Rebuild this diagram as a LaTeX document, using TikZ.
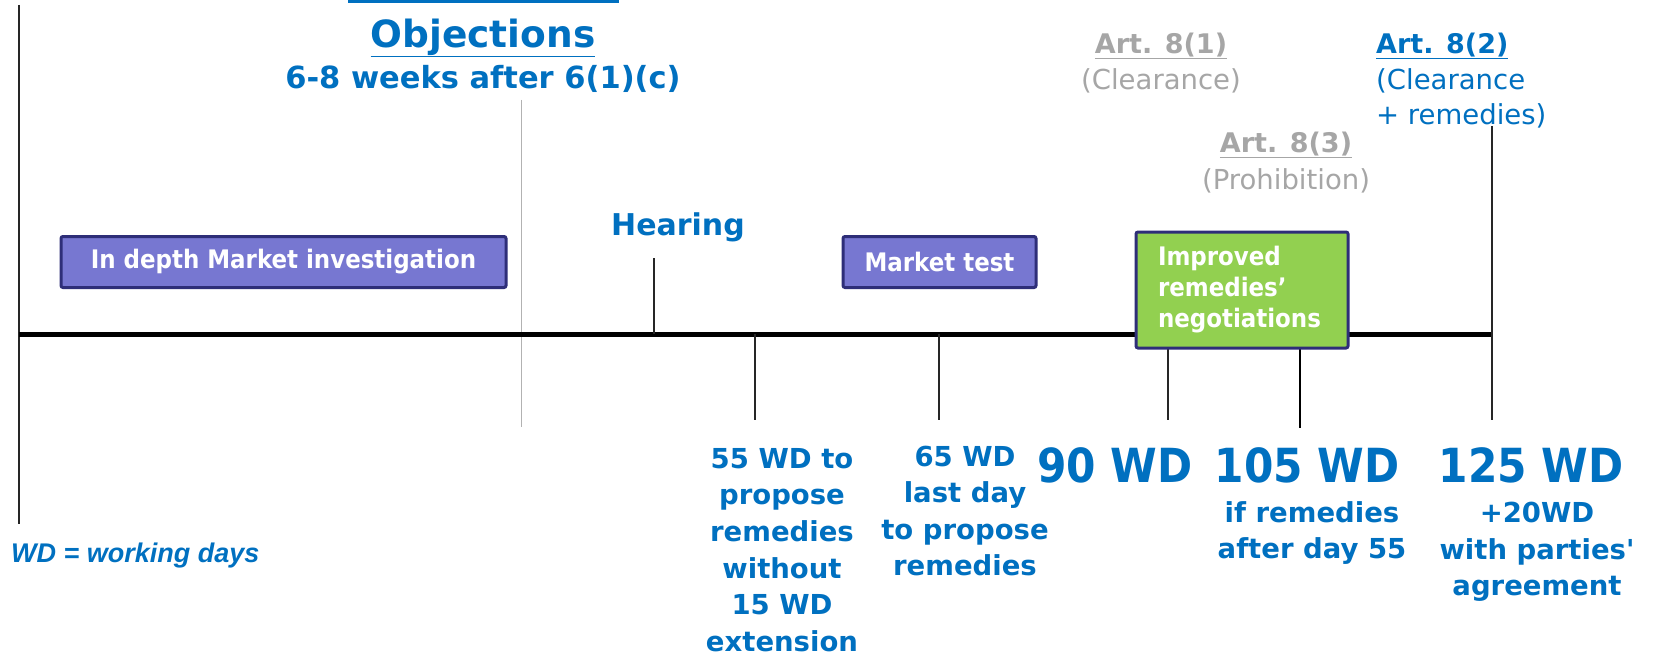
\documentclass[tikz,border=0pt]{standalone}
\usepackage{fontspec}
\setmainfont{DejaVu Sans}
\newfontfamily\dvs{DejaVu Sans}
\newfontfamily\dvc{DejaVu Sans Condensed}
\newfontfamily\arialf{Liberation Sans}
\definecolor{ecblue}{HTML}{0070C0}
\definecolor{artgray}{HTML}{A6A6A6}
\definecolor{boxpurple}{HTML}{7777D1}
\definecolor{boxnavy}{HTML}{2E2E78}
\definecolor{boxgreen}{HTML}{92D050}
\begin{document}
\begin{tikzpicture}[x=1pt,y=-1pt,
  lbl/.style={text=ecblue, font=\dvs\bfseries\fontsize{27.5}{36.6}\selectfont, align=center, inner sep=0pt},
  bigwd/.style={text=ecblue, font=\dvc\bfseries\fontsize{47}{52}\selectfont, inner sep=0pt},
  arttitle/.style={font=\dvs\bfseries\fontsize{27}{35}\selectfont, inner sep=0pt},
  artsub/.style={font=\dvs\fontsize{27.5}{35}\selectfont, inner sep=0pt},
  phase/.style={draw=boxnavy, line width=3pt, fill=boxpurple, text=white, font=\dvc\bfseries\fontsize{25.5}{31}\selectfont, rounded corners=2pt, minimum height=51pt, inner sep=0pt},
  tickline/.style={draw=black!85, line width=1.3pt},
  timeline/.style={draw=black, line width=5pt}
]
\useasboundingbox[fill=white] (0,0) rectangle (1653,658);

% frame lines
\coordinate (topl) at (348,2);
\coordinate (topr) at (619,2);
\draw[ecblue, line width=3pt] (topl) -- (topr);
\coordinate (lefttop) at (19,5);
\coordinate (leftbot) at (19,524);
\draw[tickline] (lefttop) -- (leftbot);
\coordinate (graytop) at (521,100);
\coordinate (graybot) at (521,427);
\draw[black!30, line width=1pt] (graytop) -- (graybot);

% timeline
\coordinate (tl0) at (19,334);
\coordinate (tl1) at (1492,334);
\draw[timeline] (tl0) -- (tl1);

% ticks
\coordinate (hearA) at (654,258); \coordinate (hearB) at (654,334);
\draw[tickline] (hearA) -- (hearB);
\coordinate (t55a) at (755,334); \coordinate (t55b) at (755,420);
\draw[tickline] (t55a) -- (t55b);
\coordinate (t65a) at (939,334); \coordinate (t65b) at (939,420);
\draw[tickline] (t65a) -- (t65b);
\coordinate (t90a) at (1168,340); \coordinate (t90b) at (1168,420);
\draw[tickline] (t90a) -- (t90b);
\coordinate (t105a) at (1300,340); \coordinate (t105b) at (1300,428);
\draw[draw=black, line width=2.5pt] (t105a) -- (t105b);
\coordinate (t125a) at (1492,126); \coordinate (t125b) at (1492,420);
\draw[tickline] (t125a) -- (t125b);

% phase boxes
\node[phase, minimum width=445pt] (idmi) at (283.5,262) {In depth Market investigation};
\node[phase, minimum width=193pt] (mtest) at (939.5,262) {Market test};
\node[phase, fill=boxgreen, minimum width=212pt, minimum height=116pt, align=left, text width=168pt] (improved) at (1242,290) {Improved\\remedies’\\negotiations};

% top labels
\node[text=ecblue, font=\dvs\bfseries\fontsize{37.5}{44}\selectfont, inner sep=0pt] (obj) at (483,38) {\underline{Objections}};
\node[text=ecblue, font=\dvs\bfseries\fontsize{30.5}{35}\selectfont, inner sep=0pt] (weeks) at (483,79) {6-8 weeks after 6(1)(c)};
\node[text=ecblue, font=\dvs\bfseries\fontsize{30}{35}\selectfont, inner sep=0pt] (hearing) at (678,227) {Hearing};

\node[arttitle, text=artgray] (a81) at (1161,46) {\underline{Art. 8(1)}};
\node[artsub, text=artgray] (a81s) at (1161,81) {(Clearance)};
\node[arttitle, text=artgray] (a83) at (1286,145) {\underline{Art. 8(3)}};
\node[artsub, text=artgray] (a83s) at (1286,181) {(Prohibition)};
\node[arttitle, text=ecblue, anchor=west] (a82) at (1376,46) {\underline{Art. 8(2)}};
\node[artsub, text=ecblue, anchor=west] (a82s) at (1376,81) {(Clearance};
\node[artsub, text=ecblue, anchor=west] (a82t) at (1376,116) {+ remedies)};

% bottom labels
\node[lbl] (l55) at (782,550) {55 WD to\\propose\\remedies\\without\\15 WD\\extension};
\node[lbl] (l65) at (965,511) {65 WD\\last day\\to propose\\remedies};
\node[bigwd] (w90) at (1115,465) {90 WD};
\node[bigwd] (w105) at (1307,465) {105 WD};
\node[lbl] (l105) at (1312,533) {if remedies\\after day 55};
\node[bigwd] (w125) at (1531,465) {125 WD};
\node[lbl] (l125) at (1537,552) {+20WD\\with parties'\\agreement};

\node[text=ecblue, font=\arialf\bfseries\itshape\fontsize{27}{30}\selectfont, anchor=west, inner sep=0pt] (wdnote) at (11,556) {WD = working days};
\end{tikzpicture}
\end{document}
